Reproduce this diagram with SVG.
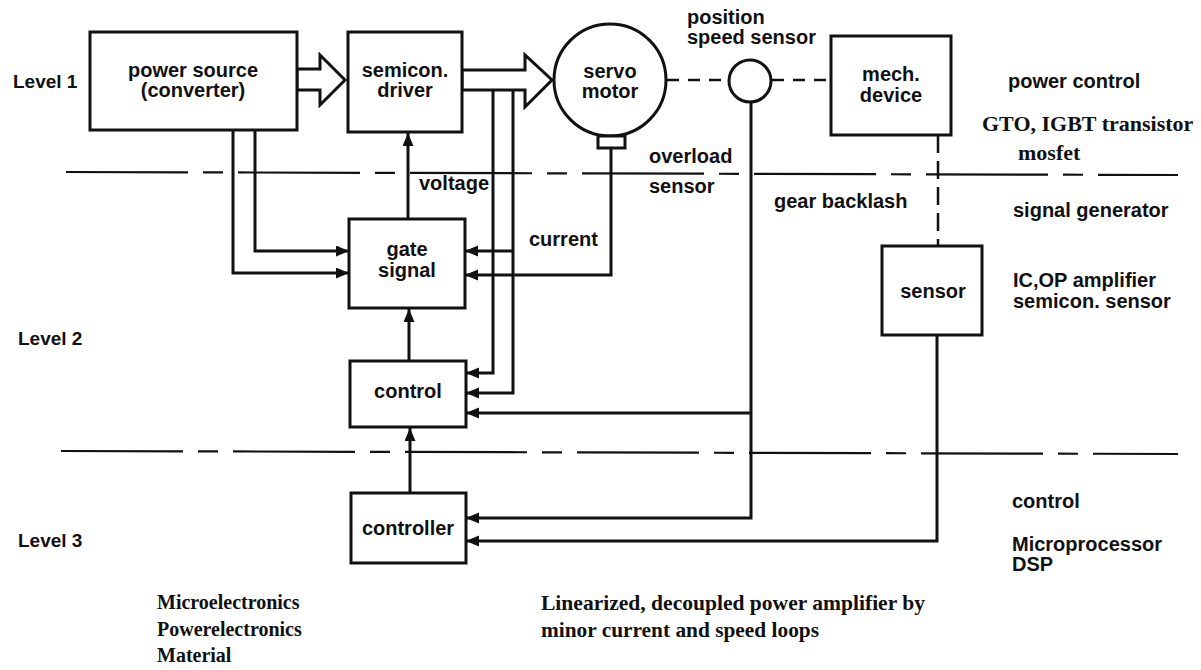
<svg xmlns="http://www.w3.org/2000/svg" width="1201" height="670" viewBox="0 0 1201 670">
<defs>
<marker id="ah" markerUnits="userSpaceOnUse" markerWidth="14" markerHeight="12" refX="13" refY="5.5" orient="auto">
<path d="M0,0 L13,5.5 L0,11 z" fill="#111"/>
</marker>
<style>
.box{fill:#fff;stroke:#111;stroke-width:3}
.ln{fill:none;stroke:#111;stroke-width:3}
.arr{fill:none;stroke:#111;stroke-width:3;marker-end:url(#ah)}
.lvl{fill:none;stroke:#111;stroke-width:2.2;stroke-dasharray:122 15 20 15}
.dsh{fill:none;stroke:#111;stroke-width:2.5;stroke-dasharray:12 9}
.hol{fill:#fff;stroke:#111;stroke-width:3;stroke-linejoin:miter}
.t{font-family:"Liberation Sans",Arial,sans-serif;font-weight:bold;font-size:20px;fill:#111}
.lv{font-size:19px}
.c{text-anchor:middle}
.s{font-family:"Liberation Serif","Times New Roman",serif;font-weight:bold;font-size:20px;fill:#111}
</style>
</defs>
<rect width="1201" height="670" fill="#fff"/>

<g id="levels">
<line class="lvl" x1="66" y1="172" x2="1178" y2="175"/>
<line class="lvl" x1="61" y1="451" x2="1178" y2="454"/>
</g>

<g id="connectors">
<polygon class="hol" points="297,69 320,69 320,55 345,80 320,105 320,90 297,90"/>
<polygon class="hol" points="462,70 525,70 525,55 552,80 525,107 525,90 462,90"/>
<polyline class="arr" points="233,130 233,273 349,273"/>
<polyline class="arr" points="255,130 255,251 349,251"/>
<polyline class="arr" points="493,90 493,373 466,373"/>
<polyline class="arr" points="513,90 513,393 466,393"/>
<polyline class="arr" points="513,251 465,251"/>
<polyline class="arr" points="611,148 611,275 465,275"/>
<line class="arr" x1="408" y1="219" x2="408" y2="133"/>
<line class="arr" x1="409" y1="361" x2="409" y2="309"/>
<line class="arr" x1="410" y1="493" x2="410" y2="428"/>
<polyline class="arr" points="751,102 751,518 466,518"/>
<polyline class="arr" points="751,413 466,413"/>
<polyline class="arr" points="937,335 937,541 466,541"/>
<line class="dsh" x1="667" y1="80" x2="729" y2="80"/>
<line class="dsh" x1="772" y1="80" x2="831" y2="80"/>
<line class="dsh" x1="938" y1="135" x2="938" y2="246" style="stroke-dasharray:18 8"/>
</g>

<g id="power-source">
<rect class="box" x="90" y="32" width="207" height="98"/>
<text class="t c" x="193" y="77">power source</text>
<text class="t c" x="193" y="97">(converter)</text>
</g>

<g id="semicon-driver">
<rect class="box" x="348" y="32" width="114" height="100"/>
<text class="t c" x="405" y="77">semicon.</text>
<text class="t c" x="405" y="97">driver</text>
</g>

<g id="servo-motor">
<circle class="box" cx="610" cy="80" r="56"/>
<rect class="box" x="598" y="136" width="27" height="12"/>
<text class="t c" x="610" y="78">servo</text>
<text class="t c" x="610" y="98">motor</text>
</g>

<g id="position-sensor">
<circle class="box" cx="750" cy="81" r="21"/>
<text class="t" x="687" y="24">position</text>
<text class="t" x="687" y="44">speed sensor</text>
</g>

<g id="mech-device">
<rect class="box" x="831" y="36" width="120" height="99"/>
<text class="t c" x="891" y="81">mech.</text>
<text class="t c" x="891" y="102">device</text>
</g>

<g id="gate-signal">
<rect class="box" x="349" y="219" width="116" height="89"/>
<text class="t c" x="407" y="256">gate</text>
<text class="t c" x="407" y="277">signal</text>
</g>

<g id="control">
<rect class="box" x="350" y="361" width="116" height="66"/>
<text class="t c" x="408" y="398">control</text>
</g>

<g id="controller">
<rect class="box" x="351" y="493" width="115" height="70"/>
<text class="t c" x="408" y="535">controller</text>
</g>

<g id="sensor">
<rect class="box" x="882" y="246" width="100" height="89"/>
<text class="t c" x="933" y="298">sensor</text>
</g>

<g id="labels">
<text class="t lv" x="13" y="88">Level 1</text>
<text class="t lv" x="18" y="345">Level 2</text>
<text class="t lv" x="18" y="547">Level 3</text>
<text class="t" x="419" y="190">voltage</text>
<text class="t" x="649" y="163">overload</text>
<text class="t" x="649" y="193">sensor</text>
<text class="t" x="529" y="246">current</text>
<text class="t" x="774" y="208">gear backlash</text>
<text class="t" x="1008" y="88">power control</text>
<text class="s" x="982" y="131" style="font-size:22px">GTO, IGBT transistor</text>
<text class="s" x="1018" y="160" style="font-size:22px">mosfet</text>
<text class="t" x="1013" y="217">signal generator</text>
<text class="t" x="1013" y="287">IC,OP amplifier</text>
<text class="t" x="1013" y="308">semicon. sensor</text>
<text class="t" x="1012" y="508">control</text>
<text class="t" x="1012" y="551">Microprocessor</text>
<text class="t" x="1012" y="571">DSP</text>
<text class="s" x="157" y="609">Microelectronics</text>
<text class="s" x="157" y="636">Powerelectronics</text>
<text class="s" x="157" y="662">Material</text>
<text class="s" x="541" y="610" style="font-size:21px" textLength="384" lengthAdjust="spacingAndGlyphs">Linearized, decoupled power amplifier by</text>
<text class="s" x="541" y="637" style="font-size:21px" textLength="278" lengthAdjust="spacingAndGlyphs">minor current and speed loops</text>
</g>
</svg>
